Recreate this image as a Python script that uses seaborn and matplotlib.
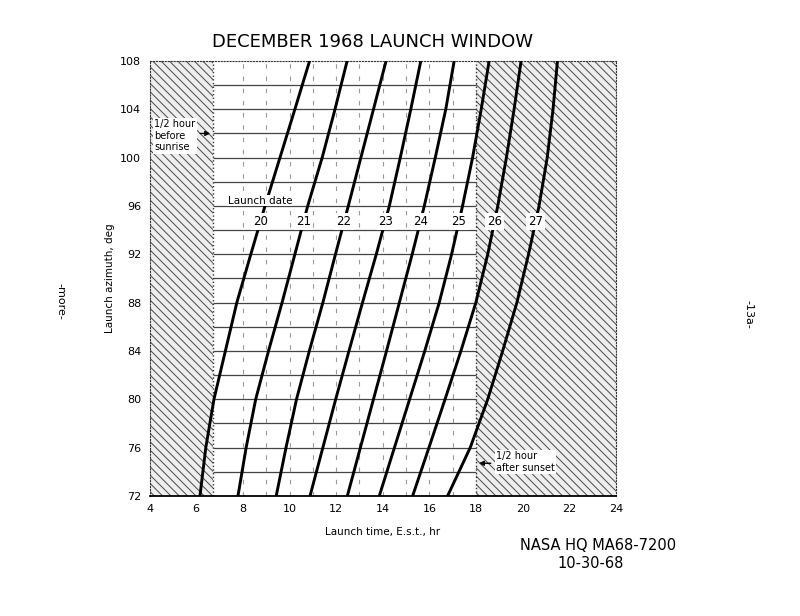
import numpy as np
import pandas as pd
import matplotlib
matplotlib.use("Agg")
import matplotlib.pyplot as plt
import seaborn as sns

# launch azimuth (deg) at which launch time was read for each date
azimuth = [72, 76, 80, 84, 88, 92, 96, 100, 104, 108]

# launch time, E.s.t. hr, one list per December launch date
dec20 = [6.16, 6.41, 6.76, 7.25, 7.74, 8.34, 8.95, 9.59, 10.23, 10.86]
dec21 = [7.79, 8.14, 8.55, 9.10, 9.68, 10.23, 10.78, 11.40, 11.95, 12.47]
dec22 = [9.43, 9.85, 10.30, 10.85, 11.43, 11.97, 12.52, 13.06, 13.60, 14.14]
dec23 = [10.88, 11.43, 11.98, 12.55, 13.13, 13.72, 14.28, 14.75, 15.20, 15.63]
dec24 = [12.48, 13.04, 13.60, 14.16, 14.71, 15.26, 15.78, 16.25, 16.70, 17.06]
dec25 = [13.85, 14.50, 15.15, 15.80, 16.42, 16.95, 17.42, 17.85, 18.22, 18.56]
dec26 = [15.28, 15.98, 16.67, 17.35, 17.99, 18.50, 18.93, 19.30, 19.63, 19.93]
dec27 = [16.78, 17.75, 18.50, 19.14, 19.75, 20.25, 20.70, 21.05, 21.30, 21.49]

dates = ["20", "21", "22", "23", "24", "25", "26", "27"]
times = [dec20, dec21, dec22, dec23, dec24, dec25, dec26, dec27]

sunrise_limit = 6.72   # 1/2 hour before sunrise
sunset_limit = 18.0    # 1/2 hour after sunset
label_azimuth = 94.7

rows = []
for d, t in zip(dates, times):
    for az, hr in zip(azimuth, t):
        rows.append({"date": d, "azimuth": az, "time": hr})
df = pd.DataFrame(rows)

sns.set_style("white")
plt.rcParams["font.family"] = ["DejaVu Sans"]
plt.rcParams["hatch.linewidth"] = 0.7
plt.rcParams["text.color"] = "black"
plt.rcParams["axes.labelcolor"] = "black"
plt.rcParams["xtick.color"] = "black"
plt.rcParams["ytick.color"] = "black"

fig = plt.figure(figsize=(8, 6.16), dpi=100)
ax = fig.add_axes([0.187, 0.195, 0.583, 0.706])

# shaded (no-launch) regions
ax.axvspan(4, sunrise_limit, facecolor="#eeeeee", edgecolor="#4a4a4a",
           hatch="\\\\\\\\", lw=0, zorder=0)
ax.axvspan(sunset_limit, 24, facecolor="#eeeeee", edgecolor="#4a4a4a",
           hatch="\\\\\\\\", lw=0, zorder=0)
ax.axvline(sunrise_limit, color="#333333", ls=":", lw=1, zorder=1)
ax.axvline(sunset_limit, color="#333333", ls=":", lw=1, zorder=1)

# grid of the launch window
ax.hlines(np.arange(74, 108, 2), sunrise_limit, sunset_limit,
          color="#444444", lw=0.9, zorder=1)
ax.vlines(np.arange(8, 18), 72, 108, color="#999999", lw=0.8,
          linestyles=(0, (4, 7)), zorder=1)

sns.lineplot(data=df, x="time", y="azimuth", hue="date", units="date",
             estimator=None, sort=False, palette=["black"] * len(dates),
             lw=2.1, legend=False, ax=ax, zorder=3)

for d, t in zip(dates, times):
    x = np.interp(label_azimuth, azimuth, t)
    ax.text(x, label_azimuth, d, ha="center", va="center", fontsize=8.5,
            zorder=4, bbox=dict(facecolor="white", edgecolor="none", pad=1.5))

ax.text(7.35, 96.45, "Launch date", fontsize=7.5, ha="left", va="center",
        zorder=4, bbox=dict(facecolor="white", edgecolor="none", pad=0.5))

ax.text(4.2, 103.2, "1/2 hour\nbefore\nsunrise", fontsize=7, ha="left",
        va="top", linespacing=1.2, zorder=4,
        bbox=dict(facecolor="white", edgecolor="none", pad=1))
ax.annotate("", xy=(sunrise_limit, 102.0), xytext=(6.05, 102.0),
            arrowprops=dict(arrowstyle="-|>", color="black", lw=1,
                            mutation_scale=7), zorder=4)

ax.text(18.85, 74.8, "1/2 hour\nafter sunset", fontsize=7, ha="left",
        va="center", linespacing=1.2, zorder=4,
        bbox=dict(facecolor="white", edgecolor="none", pad=1))
ax.annotate("", xy=(sunset_limit, 74.7), xytext=(18.75, 74.7),
            arrowprops=dict(arrowstyle="-|>", color="black", lw=1,
                            mutation_scale=7), zorder=4)

ax.set_xlim(4, 24)
ax.set_ylim(72, 108)
ax.set_xticks(np.arange(4, 25, 2))
ax.set_yticks(np.arange(72, 109, 4))
ax.tick_params(length=0, labelsize=8, pad=6)
ax.set_xlabel("Launch time, E.s.t., hr", fontsize=7.5, labelpad=9)
ax.set_ylabel("Launch azimuth, deg", fontsize=7.5, labelpad=4)
for side in ["left", "top", "right"]:
    ax.spines[side].set_linestyle(":")
    ax.spines[side].set_color("#333333")
ax.spines["bottom"].set_color("black")
ax.spines["bottom"].set_linewidth(1.3)

fig.text(0.465, 0.932, "DECEMBER 1968 LAUNCH WINDOW", fontsize=13,
         ha="center", va="center")
fig.text(0.748, 0.115, "NASA HQ MA68-7200", fontsize=10.5, ha="center",
         va="center")
fig.text(0.738, 0.086, "10-30-68", fontsize=10.5, ha="center", va="center")
fig.text(0.076, 0.51, "-more-", fontsize=8, rotation=-90, ha="center",
         va="center")
fig.text(0.935, 0.49, "-13a-", fontsize=8, rotation=-90, ha="center",
         va="center")

fig.savefig("out.png", dpi=100)
